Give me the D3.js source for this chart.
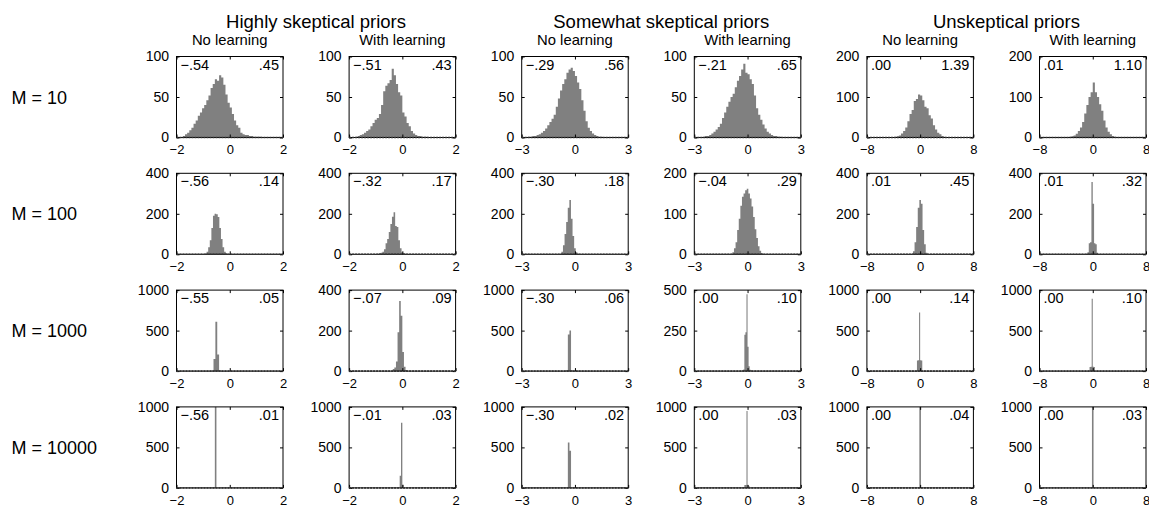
<!DOCTYPE html>
<html>
<head>
<meta charset="utf-8">
<script src="https://cdn.jsdelivr.net/npm/d3@7"></script>
<style>
  html, body { margin: 0; padding: 0; background: #fff; }
  svg { display: block; }
  text { font-family: "Liberation Sans", Arial, Helvetica, sans-serif; fill: #000; }
</style>
</head>
<body>
<svg id="chart" width="1149" height="508"></svg>
<script>
// ---------------- DATA ----------------
const groupTitles = ["Highly skeptical priors", "Somewhat skeptical priors", "Unskeptical priors"];
const panelTitles = ["No learning", "With learning", "No learning", "With learning", "No learning", "With learning"];
const rowLabels = ["M = 10", "M = 100", "M = 1000", "M = 10000"];

// x-axis half range per column
const xRange = [2, 2, 3, 3, 8, 8];
// y-axis maximum per row / column
const yMax_M10    = [100, 100, 100, 100, 200, 200];
const yMax_M100   = [400, 400, 400, 200, 400, 400];
const yMax_M1000  = [1000, 400, 1000, 500, 1000, 1000];
const yMax_M10000 = [1000, 1000, 1000, 1000, 1000, 1000];

// corner annotations (left, right)
const noteLeft_M10     = ["−.54", "−.51", "−.29", "−.21", ".00", ".01"];
const noteRight_M10    = [".45", ".43", ".56", ".65", "1.39", "1.10"];
const noteLeft_M100    = ["−.56", "−.32", "−.30", "−.04", ".01", ".01"];
const noteRight_M100   = [".14", ".17", ".18", ".29", ".45", ".32"];
const noteLeft_M1000   = ["−.55", "−.07", "−.30", ".00", ".00", ".00"];
const noteRight_M1000  = [".05", ".09", ".06", ".10", ".14", ".10"];
const noteLeft_M10000  = ["−.56", "−.01", "−.30", ".00", ".00", ".00"];
const noteRight_M10000 = [".01", ".03", ".02", ".03", ".04", ".03"];

// histogram bins: first bin edge, bin width, counts
const binLo_M10 = [-1.76, -1.76, -2.64, -2.52, -4.48, -3.84];
const binW_M10  = [0.08, 0.08, 0.12, 0.12, 0.32, 0.32];
const counts_M10 = [
  [2,4,6,9,12,17,21,27,31,36,40,46,52,61,66,72,70,77,74,65,53,43,37,29,21,15,12,6,4,3,3,2,2,1,1,1,1],
  [1,2,3,4,6,8,10,14,18,22,24,29,40,57,64,67,71,85,77,66,56,52,31,26,18,14,8,5,3,2,2,1,1,1],
  [1,1,2,2,3,4,6,8,11,15,19,23,28,38,48,58,66,72,80,84,86,82,76,68,60,46,33,20,12,8,5,3,2,1,1],
  [1,2,2,3,5,7,10,13,17,24,31,38,44,50,54,62,70,76,84,91,80,78,72,66,52,36,28,22,16,11,7,5,3,2,2,1,1],
  [1,1,2,3,5,10,16,25,40,58,68,90,95,106,104,92,76,72,55,47,30,20,12,8,4,2,1],
  [1,2,3,5,9,16,25,38,59,80,100,112,136,112,100,82,66,42,25,14,8,4,2,1]
];

const binLo_M100 = [-0.93, -1.05, -0.855, -0.855, -1.32, -1.00];
const binW_M100  = [0.06, 0.06, 0.09, 0.09, 0.24, 0.20];
const counts_M100 = [
  [4,12,35,70,130,190,200,198,184,130,75,35,12,5,2,1],
  [1,2,3,5,8,12,25,55,75,110,150,185,208,140,135,70,30,10,5,3,2,1,1],
  [3,12,45,100,160,230,268,175,90,30,10,3],
  [5,15,30,60,88,120,142,150,158,162,150,138,118,92,62,40,20,9,3],
  [3,15,60,135,230,268,250,120,50,8,2],
  [3,10,55,60,357,250,55,50,8,2]
];

const binLo_M1000 = [-0.68, -0.36, -0.58, -0.30, -0.48, -0.48];
const binW_M1000  = [0.07, 0.06, 0.09, 0.06, 0.16, 0.16];
const counts_M1000 = [
  [5,150,610,205,8],
  [10,18,48,192,346,273,94,21,5],
  [3,10,451,500,12],
  [5,10,225,240,475,150,30,8,3],
  [132,134,723,134,130],
  [52,53,894,53,50]
];

const binLo_M10000 = [-0.56, -0.10, -0.40, -0.18, -0.12, -0.12];
const binW_M10000  = [0.06, 0.05, 0.09, 0.06, 0.24, 0.24];
const counts_M10000 = [
  [1000],
  [150,805,40,5],
  [560,460],
  [35,37,950,35,20],
  [1000],
  [1000]
];

// ---------------- ASSEMBLY ----------------
const rows = [
  {label: rowLabels[0], yMax: yMax_M10,    lo: binLo_M10,    bw: binW_M10,    counts: counts_M10,    nl: noteLeft_M10,    nr: noteRight_M10},
  {label: rowLabels[1], yMax: yMax_M100,   lo: binLo_M100,   bw: binW_M100,   counts: counts_M100,   nl: noteLeft_M100,   nr: noteRight_M100},
  {label: rowLabels[2], yMax: yMax_M1000,  lo: binLo_M1000,  bw: binW_M1000,  counts: counts_M1000,  nl: noteLeft_M1000,  nr: noteRight_M1000},
  {label: rowLabels[3], yMax: yMax_M10000, lo: binLo_M10000, bw: binW_M10000, counts: counts_M10000, nl: noteLeft_M10000, nr: noteRight_M10000}
];

// ---------------- LAYOUT ----------------
const svg = d3.select("#chart");
const pw = 106.5, ph = 81;
const colLeft = d3.range(6).map(c => 176.5 + c * 172.6);
const rowTop = d3.range(4).map(r => 56.5 + r * 116.8);

// group titles
groupTitles.forEach((t, g) => {
  const cx = (colLeft[2 * g] + colLeft[2 * g + 1] + pw) / 2;
  svg.append("text").attr("x", cx).attr("y", 27.5)
    .attr("text-anchor", "middle").style("font-size", "18.5px").text(t);
});
// panel titles
panelTitles.forEach((t, c) => {
  svg.append("text").attr("x", colLeft[c] + pw / 2).attr("y", 45)
    .attr("text-anchor", "middle").style("font-size", "14.8px").text(t);
});

rows.forEach((row, r) => {
  svg.append("text").attr("x", 11.5).attr("y", rowTop[r] + ph / 2 + 6.5)
    .style("font-size", "18px").text(row.label);

  for (let c = 0; c < 6; c++) {
    const g = svg.append("g").attr("transform", `translate(${colLeft[c]},${rowTop[r]})`);
    const R = xRange[c], ym = row.yMax[c];
    const x = d3.scaleLinear().domain([-R, R]).range([0, pw]);
    const y = d3.scaleLinear().domain([0, ym]).range([ph, 0]);

    const lo = row.lo[c], bw = row.bw[c];
    const cts = row.counts[c];
    // step points: each bin's left edge with its count, plus closing right edge
    const pts = cts.map((v, i) => ({xv: lo + i * bw, v: Math.min(v, ym)}));
    pts.push({xv: lo + cts.length * bw, v: 0});
    const area = d3.area()
      .x(d => x(d.xv))
      .y0(ph)
      .y1(d => y(d.v))
      .curve(d3.curveStepAfter);
    g.append("path").datum(pts).attr("d", area).attr("fill", "#808080");

    const xt = [-R, 0, R], yt = [0, ym / 2, ym];
    const styleAxis = (sel, fs) => {
      sel.select(".domain").remove();
      sel.selectAll("line").attr("stroke", "#000");
      sel.selectAll("text").style("font-size", fs).style("font-family", "'Liberation Sans', Arial, sans-serif");
    };
    g.append("g").call(d3.axisLeft(y).tickValues(yt).tickFormat(d3.format("d")).tickSizeInner(-3).tickSizeOuter(0).tickPadding(7.5)).call(styleAxis, "14px");
    g.append("g").attr("transform", `translate(0,${ph})`)
      .call(d3.axisBottom(x).tickValues(xt).tickFormat(d3.format("d")).tickSizeInner(-3).tickSizeOuter(0).tickPadding(7.5)).call(styleAxis, "13px");
    g.append("g").attr("transform", `translate(${pw},0)`)
      .call(d3.axisRight(y).tickValues(yt).tickFormat("").tickSizeInner(-3).tickSizeOuter(0)).call(styleAxis, "13px");
    g.append("g")
      .call(d3.axisTop(x).tickValues(xt).tickFormat("").tickSizeInner(-3).tickSizeOuter(0)).call(styleAxis, "13px");

    g.append("rect").attr("x", 0).attr("y", 0).attr("width", pw).attr("height", ph)
      .attr("fill", "none").attr("stroke", "#000").attr("stroke-width", 1);
    g.append("line").attr("x1", 0).attr("x2", pw).attr("y1", ph).attr("y2", ph)
      .attr("stroke", "#333").attr("stroke-width", 1.6).attr("stroke-dasharray", "2,1");

    g.append("text").attr("x", 4).attr("y", 13).style("font-size", "14.5px").text(row.nl[c]);
    g.append("text").attr("x", pw - 4).attr("y", 13).attr("text-anchor", "end").style("font-size", "14.5px").text(row.nr[c]);
  }
});
</script>
</body>
</html>
